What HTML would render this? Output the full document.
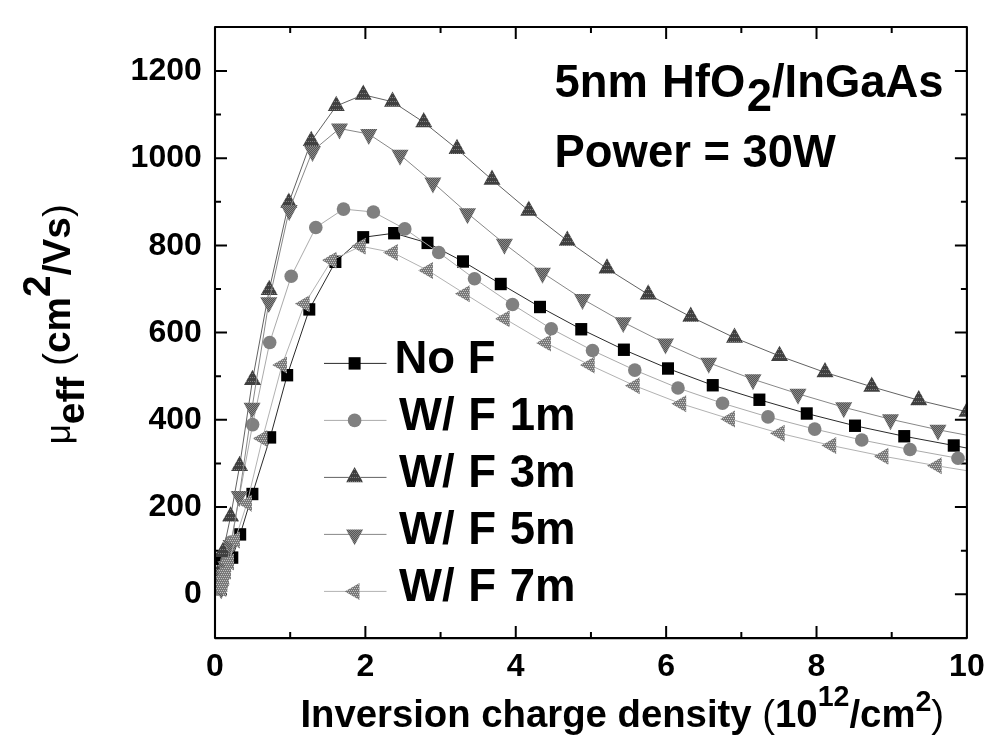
<!DOCTYPE html>
<html lang="en"><head><meta charset="utf-8"><title>Effective mobility vs inversion charge density</title>
<style>html,body{margin:0;padding:0;background:#fff}svg{display:block}text{font-family:"Liberation Sans",Arial,Helvetica,sans-serif;font-weight:bold;fill:#000}.r{font-weight:normal}</style></head><body>
<svg width="1000" height="748" viewBox="0 0 1000 748">
<rect width="1000" height="748" fill="#fff"/>
<defs><clipPath id="cp"><rect x="215.0" y="27.0" width="752.9" height="611.1"/></clipPath><pattern id="pu" width="2" height="4" patternUnits="userSpaceOnUse"><rect width="2" height="4" fill="#404040"/><rect x="0" y="1" width="1" height="1" fill="#808080"/></pattern><pattern id="pd" width="2" height="2" patternUnits="userSpaceOnUse"><rect width="2" height="2" fill="#555"/><rect width="1" height="1" fill="#888"/><rect x="1" y="1" width="1" height="1" fill="#888"/></pattern><pattern id="pl" width="2" height="4" patternUnits="userSpaceOnUse"><rect width="2" height="4" fill="#787878"/><rect width="1" height="1" fill="#c4c4c4"/><rect x="1" y="2" width="1" height="1" fill="#c4c4c4"/></pattern></defs>
<g stroke="#000" stroke-width="2" fill="none" stroke-linecap="butt">
<path d="M290.19,638.1 v-6 M290.19,27.0 v6"/>
<path d="M365.38,638.1 v-12 M365.38,27.0 v12"/>
<path d="M440.57,638.1 v-6 M440.57,27.0 v6"/>
<path d="M515.76,638.1 v-12 M515.76,27.0 v12"/>
<path d="M590.95,638.1 v-6 M590.95,27.0 v6"/>
<path d="M666.14,638.1 v-12 M666.14,27.0 v12"/>
<path d="M741.33,638.1 v-6 M741.33,27.0 v6"/>
<path d="M816.52,638.1 v-12 M816.52,27.0 v12"/>
<path d="M891.71,638.1 v-6 M891.71,27.0 v6"/>
<path d="M215.0,594.25 h12 M966.9,594.25 h-12"/>
<path d="M215.0,550.65 h6 M966.9,550.65 h-6"/>
<path d="M215.0,507.04 h12 M966.9,507.04 h-12"/>
<path d="M215.0,463.44 h6 M966.9,463.44 h-6"/>
<path d="M215.0,419.83 h12 M966.9,419.83 h-12"/>
<path d="M215.0,376.23 h6 M966.9,376.23 h-6"/>
<path d="M215.0,332.62 h12 M966.9,332.62 h-12"/>
<path d="M215.0,289.02 h6 M966.9,289.02 h-6"/>
<path d="M215.0,245.42 h12 M966.9,245.42 h-12"/>
<path d="M215.0,201.81 h6 M966.9,201.81 h-6"/>
<path d="M215.0,158.21 h12 M966.9,158.21 h-12"/>
<path d="M215.0,114.60 h6 M966.9,114.60 h-6"/>
<path d="M215.0,71.00 h12 M966.9,71.00 h-12"/>
</g>
<g clip-path="url(#cp)">
<polyline points="216.40,559.00 232.30,557.60 240.20,534.40 252.40,494.00 270.20,437.40 287.20,375.20 309.30,309.40 335.40,261.80 363.20,237.30 394.10,233.20 427.50,242.90 463.00,261.50 500.75,284.00 540.00,307.00 581.25,329.25 623.90,349.75 668.00,368.50 712.75,385.25 759.40,399.75 806.75,413.50 855.00,425.75 904.25,436.25 953.75,445.50 967.50,448.20" fill="none" stroke="#2a2a2a" stroke-width="1"/>
<rect x="210.40" y="552.80" width="12" height="12.4" fill="#000000"/>
<rect x="226.30" y="551.40" width="12" height="12.4" fill="#000000"/>
<rect x="234.20" y="528.20" width="12" height="12.4" fill="#000000"/>
<rect x="246.40" y="487.80" width="12" height="12.4" fill="#000000"/>
<rect x="264.20" y="431.20" width="12" height="12.4" fill="#000000"/>
<rect x="281.20" y="369.00" width="12" height="12.4" fill="#000000"/>
<rect x="303.30" y="303.20" width="12" height="12.4" fill="#000000"/>
<rect x="329.40" y="255.60" width="12" height="12.4" fill="#000000"/>
<rect x="357.20" y="231.10" width="12" height="12.4" fill="#000000"/>
<rect x="388.10" y="227.00" width="12" height="12.4" fill="#000000"/>
<rect x="421.50" y="236.70" width="12" height="12.4" fill="#000000"/>
<rect x="457.00" y="255.30" width="12" height="12.4" fill="#000000"/>
<rect x="494.75" y="277.80" width="12" height="12.4" fill="#000000"/>
<rect x="534.00" y="300.80" width="12" height="12.4" fill="#000000"/>
<rect x="575.25" y="323.05" width="12" height="12.4" fill="#000000"/>
<rect x="617.90" y="343.55" width="12" height="12.4" fill="#000000"/>
<rect x="662.00" y="362.30" width="12" height="12.4" fill="#000000"/>
<rect x="706.75" y="379.05" width="12" height="12.4" fill="#000000"/>
<rect x="753.40" y="393.55" width="12" height="12.4" fill="#000000"/>
<rect x="800.75" y="407.30" width="12" height="12.4" fill="#000000"/>
<rect x="849.00" y="419.55" width="12" height="12.4" fill="#000000"/>
<rect x="898.25" y="430.05" width="12" height="12.4" fill="#000000"/>
<rect x="947.75" y="439.30" width="12" height="12.4" fill="#000000"/>
<polyline points="218.00,589.00 219.50,584.00 221.50,577.00 224.00,569.00 227.00,560.00 231.00,542.00 252.60,424.60 269.70,342.50 291.20,276.30 315.80,227.50 343.50,209.10 373.40,212.00 404.80,228.90 438.75,252.50 474.50,278.75 512.50,304.50 551.25,328.75 592.50,350.50 634.80,370.10 678.00,388.00 722.50,403.25 768.00,416.90 814.70,429.10 861.75,440.00 910.00,449.50 958.00,458.25 967.50,460.20" fill="none" stroke="#aaaaaa" stroke-width="1"/>
<circle cx="218.00" cy="589.00" r="6.8" fill="#808080"/>
<circle cx="219.50" cy="584.00" r="6.8" fill="#808080"/>
<circle cx="221.50" cy="577.00" r="6.8" fill="#808080"/>
<circle cx="224.00" cy="569.00" r="6.8" fill="#808080"/>
<circle cx="227.00" cy="560.00" r="6.8" fill="#808080"/>
<circle cx="231.00" cy="542.00" r="6.8" fill="#808080"/>
<circle cx="252.60" cy="424.60" r="6.8" fill="#808080"/>
<circle cx="269.70" cy="342.50" r="6.8" fill="#808080"/>
<circle cx="291.20" cy="276.30" r="6.8" fill="#808080"/>
<circle cx="315.80" cy="227.50" r="6.8" fill="#808080"/>
<circle cx="343.50" cy="209.10" r="6.8" fill="#808080"/>
<circle cx="373.40" cy="212.00" r="6.8" fill="#808080"/>
<circle cx="404.80" cy="228.90" r="6.8" fill="#808080"/>
<circle cx="438.75" cy="252.50" r="6.8" fill="#808080"/>
<circle cx="474.50" cy="278.75" r="6.8" fill="#808080"/>
<circle cx="512.50" cy="304.50" r="6.8" fill="#808080"/>
<circle cx="551.25" cy="328.75" r="6.8" fill="#808080"/>
<circle cx="592.50" cy="350.50" r="6.8" fill="#808080"/>
<circle cx="634.80" cy="370.10" r="6.8" fill="#808080"/>
<circle cx="678.00" cy="388.00" r="6.8" fill="#808080"/>
<circle cx="722.50" cy="403.25" r="6.8" fill="#808080"/>
<circle cx="768.00" cy="416.90" r="6.8" fill="#808080"/>
<circle cx="814.70" cy="429.10" r="6.8" fill="#808080"/>
<circle cx="861.75" cy="440.00" r="6.8" fill="#808080"/>
<circle cx="910.00" cy="449.50" r="6.8" fill="#808080"/>
<circle cx="958.00" cy="458.25" r="6.8" fill="#808080"/>
<polyline points="217.50,575.00 223.00,552.00 230.60,516.60 239.60,466.00 252.50,380.00 269.20,290.00 288.80,202.80 311.25,141.00 336.25,106.00 363.25,94.75 392.50,101.75 423.75,122.25 457.00,149.00 492.00,179.75 528.75,210.75 567.30,240.75 607.00,268.60 648.25,294.50 690.75,316.75 734.50,337.75 779.50,356.00 825.00,372.40 871.75,386.75 918.75,400.25 967.00,411.80" fill="none" stroke="#626262" stroke-width="1"/>
<polygon points="217.50,564.71 209.00,579.91 226.00,579.91" fill="url(#pu)"/>
<polygon points="223.00,541.71 214.50,556.91 231.50,556.91" fill="url(#pu)"/>
<polygon points="230.60,506.31 222.10,521.51 239.10,521.51" fill="url(#pu)"/>
<polygon points="239.60,455.71 231.10,470.91 248.10,470.91" fill="url(#pu)"/>
<polygon points="252.50,369.71 244.00,384.91 261.00,384.91" fill="url(#pu)"/>
<polygon points="269.20,279.71 260.70,294.91 277.70,294.91" fill="url(#pu)"/>
<polygon points="288.80,192.51 280.30,207.71 297.30,207.71" fill="url(#pu)"/>
<polygon points="311.25,130.71 302.75,145.91 319.75,145.91" fill="url(#pu)"/>
<polygon points="336.25,95.71 327.75,110.91 344.75,110.91" fill="url(#pu)"/>
<polygon points="363.25,84.46 354.75,99.66 371.75,99.66" fill="url(#pu)"/>
<polygon points="392.50,91.46 384.00,106.66 401.00,106.66" fill="url(#pu)"/>
<polygon points="423.75,111.96 415.25,127.16 432.25,127.16" fill="url(#pu)"/>
<polygon points="457.00,138.71 448.50,153.91 465.50,153.91" fill="url(#pu)"/>
<polygon points="492.00,169.46 483.50,184.66 500.50,184.66" fill="url(#pu)"/>
<polygon points="528.75,200.46 520.25,215.66 537.25,215.66" fill="url(#pu)"/>
<polygon points="567.30,230.46 558.80,245.66 575.80,245.66" fill="url(#pu)"/>
<polygon points="607.00,258.31 598.50,273.51 615.50,273.51" fill="url(#pu)"/>
<polygon points="648.25,284.21 639.75,299.41 656.75,299.41" fill="url(#pu)"/>
<polygon points="690.75,306.46 682.25,321.66 699.25,321.66" fill="url(#pu)"/>
<polygon points="734.50,327.46 726.00,342.66 743.00,342.66" fill="url(#pu)"/>
<polygon points="779.50,345.71 771.00,360.91 788.00,360.91" fill="url(#pu)"/>
<polygon points="825.00,362.11 816.50,377.31 833.50,377.31" fill="url(#pu)"/>
<polygon points="871.75,376.46 863.25,391.66 880.25,391.66" fill="url(#pu)"/>
<polygon points="918.75,389.96 910.25,405.16 927.25,405.16" fill="url(#pu)"/>
<polygon points="967.00,401.51 958.50,416.71 975.50,416.71" fill="url(#pu)"/>
<polyline points="221.20,588.40 221.50,583.00 223.00,576.00 226.00,566.00 231.00,545.00 239.20,496.00 252.10,407.70 268.80,302.10 289.20,210.00 312.50,151.00 339.50,128.50 368.75,134.00 400.00,154.75 432.90,182.50 467.50,213.25 504.40,243.75 542.50,272.75 582.50,299.00 623.25,322.20 665.50,343.50 708.75,362.75 753.00,379.25 798.00,393.75 843.75,407.25 890.50,419.25 938.00,429.75 967.50,435.30" fill="none" stroke="#888888" stroke-width="1"/>
<polygon points="221.20,599.29 212.70,583.49 229.70,583.49" fill="url(#pd)"/>
<polygon points="221.50,593.89 213.00,578.09 230.00,578.09" fill="url(#pd)"/>
<polygon points="223.00,586.89 214.50,571.09 231.50,571.09" fill="url(#pd)"/>
<polygon points="226.00,576.89 217.50,561.09 234.50,561.09" fill="url(#pd)"/>
<polygon points="231.00,555.89 222.50,540.09 239.50,540.09" fill="url(#pd)"/>
<polygon points="239.20,506.89 230.70,491.09 247.70,491.09" fill="url(#pd)"/>
<polygon points="252.10,418.59 243.60,402.79 260.60,402.79" fill="url(#pd)"/>
<polygon points="268.80,312.99 260.30,297.19 277.30,297.19" fill="url(#pd)"/>
<polygon points="289.20,220.89 280.70,205.09 297.70,205.09" fill="url(#pd)"/>
<polygon points="312.50,161.89 304.00,146.09 321.00,146.09" fill="url(#pd)"/>
<polygon points="339.50,139.39 331.00,123.59 348.00,123.59" fill="url(#pd)"/>
<polygon points="368.75,144.89 360.25,129.09 377.25,129.09" fill="url(#pd)"/>
<polygon points="400.00,165.64 391.50,149.84 408.50,149.84" fill="url(#pd)"/>
<polygon points="432.90,193.39 424.40,177.59 441.40,177.59" fill="url(#pd)"/>
<polygon points="467.50,224.14 459.00,208.34 476.00,208.34" fill="url(#pd)"/>
<polygon points="504.40,254.64 495.90,238.84 512.90,238.84" fill="url(#pd)"/>
<polygon points="542.50,283.64 534.00,267.84 551.00,267.84" fill="url(#pd)"/>
<polygon points="582.50,309.89 574.00,294.09 591.00,294.09" fill="url(#pd)"/>
<polygon points="623.25,333.09 614.75,317.29 631.75,317.29" fill="url(#pd)"/>
<polygon points="665.50,354.39 657.00,338.59 674.00,338.59" fill="url(#pd)"/>
<polygon points="708.75,373.64 700.25,357.84 717.25,357.84" fill="url(#pd)"/>
<polygon points="753.00,390.14 744.50,374.34 761.50,374.34" fill="url(#pd)"/>
<polygon points="798.00,404.64 789.50,388.84 806.50,388.84" fill="url(#pd)"/>
<polygon points="843.75,418.14 835.25,402.34 852.25,402.34" fill="url(#pd)"/>
<polygon points="890.50,430.14 882.00,414.34 899.00,414.34" fill="url(#pd)"/>
<polygon points="938.00,440.64 929.50,424.84 946.50,424.84" fill="url(#pd)"/>
<polyline points="221.50,588.50 222.50,583.50 224.00,577.50 226.00,571.00 229.00,562.00 235.00,540.00 247.00,503.30 262.50,438.40 282.00,365.10 304.70,303.70 331.70,260.20 360.80,246.20 392.90,252.60 428.00,270.50 464.75,293.75 504.75,318.75 546.00,343.00 589.75,365.00 634.75,385.75 681.25,403.75 730.00,419.00 779.75,433.25 831.25,445.50 883.50,456.25 936.75,465.75 967.50,470.80" fill="none" stroke="#b2b2b2" stroke-width="1"/>
<polygon points="211.69,588.50 226.41,580.00 226.41,597.00" fill="url(#pl)"/>
<polygon points="212.69,583.50 227.41,575.00 227.41,592.00" fill="url(#pl)"/>
<polygon points="214.19,577.50 228.91,569.00 228.91,586.00" fill="url(#pl)"/>
<polygon points="216.19,571.00 230.91,562.50 230.91,579.50" fill="url(#pl)"/>
<polygon points="219.19,562.00 233.91,553.50 233.91,570.50" fill="url(#pl)"/>
<polygon points="225.19,540.00 239.91,531.50 239.91,548.50" fill="url(#pl)"/>
<polygon points="237.19,503.30 251.91,494.80 251.91,511.80" fill="url(#pl)"/>
<polygon points="252.69,438.40 267.41,429.90 267.41,446.90" fill="url(#pl)"/>
<polygon points="272.19,365.10 286.91,356.60 286.91,373.60" fill="url(#pl)"/>
<polygon points="294.89,303.70 309.61,295.20 309.61,312.20" fill="url(#pl)"/>
<polygon points="321.89,260.20 336.61,251.70 336.61,268.70" fill="url(#pl)"/>
<polygon points="350.99,246.20 365.71,237.70 365.71,254.70" fill="url(#pl)"/>
<polygon points="383.09,252.60 397.81,244.10 397.81,261.10" fill="url(#pl)"/>
<polygon points="418.19,270.50 432.91,262.00 432.91,279.00" fill="url(#pl)"/>
<polygon points="454.94,293.75 469.66,285.25 469.66,302.25" fill="url(#pl)"/>
<polygon points="494.94,318.75 509.66,310.25 509.66,327.25" fill="url(#pl)"/>
<polygon points="536.19,343.00 550.91,334.50 550.91,351.50" fill="url(#pl)"/>
<polygon points="579.94,365.00 594.66,356.50 594.66,373.50" fill="url(#pl)"/>
<polygon points="624.94,385.75 639.66,377.25 639.66,394.25" fill="url(#pl)"/>
<polygon points="671.44,403.75 686.16,395.25 686.16,412.25" fill="url(#pl)"/>
<polygon points="720.19,419.00 734.91,410.50 734.91,427.50" fill="url(#pl)"/>
<polygon points="769.94,433.25 784.66,424.75 784.66,441.75" fill="url(#pl)"/>
<polygon points="821.44,445.50 836.16,437.00 836.16,454.00" fill="url(#pl)"/>
<polygon points="873.69,456.25 888.41,447.75 888.41,464.75" fill="url(#pl)"/>
<polygon points="926.94,465.75 941.66,457.25 941.66,474.25" fill="url(#pl)"/>
</g>
<rect x="215.0" y="27.0" width="751.9" height="611.1" fill="none" stroke="#000" stroke-width="2.1" stroke-linejoin="round"/>
<g font-size="32">
<text x="201.8" y="603.45" text-anchor="end">0</text>
<text x="201.8" y="516.24" text-anchor="end">200</text>
<text x="201.8" y="429.03" text-anchor="end">400</text>
<text x="201.8" y="341.82" text-anchor="end">600</text>
<text x="201.8" y="254.62" text-anchor="end">800</text>
<text x="201.8" y="167.41" text-anchor="end">1000</text>
<text x="201.8" y="80.20" text-anchor="end">1200</text>
<text x="215.00" y="676" text-anchor="middle">0</text>
<text x="365.38" y="676" text-anchor="middle">2</text>
<text x="515.76" y="676" text-anchor="middle">4</text>
<text x="666.14" y="676" text-anchor="middle">6</text>
<text x="816.52" y="676" text-anchor="middle">8</text>
<text x="966.90" y="676" text-anchor="middle">10</text>
</g>
<g font-size="45.4">
<text x="554.6" y="96.8" word-spacing="1.5">5nm HfO<tspan dy="14" dx="1.5">2</tspan><tspan dy="-14">/InGaAs</tspan></text>
<text x="554.6" y="167.4">Power = 30W</text>
</g>
<g font-size="45.5">
<line x1="324" y1="363.40" x2="386.5" y2="363.40" stroke="#2a2a2a" stroke-width="1"/>
<rect x="348.60" y="357.20" width="12" height="12.4" fill="#000000"/>
<text x="394.4" y="372.70">No F</text>
<line x1="324" y1="420.40" x2="386.5" y2="420.40" stroke="#aaaaaa" stroke-width="1"/>
<circle cx="354.60" cy="420.40" r="6.8" fill="#808080"/>
<text x="399" y="429.70" word-spacing="1">W/ F 1m</text>
<line x1="324" y1="477.40" x2="386.5" y2="477.40" stroke="#626262" stroke-width="1"/>
<polygon points="354.60,467.11 346.10,482.31 363.10,482.31" fill="url(#pu)"/>
<text x="399" y="486.70" word-spacing="1">W/ F 3m</text>
<line x1="324" y1="534.40" x2="386.5" y2="534.40" stroke="#888888" stroke-width="1"/>
<polygon points="354.60,545.29 346.10,529.49 363.10,529.49" fill="url(#pd)"/>
<text x="399" y="543.70" word-spacing="1">W/ F 5m</text>
<line x1="324" y1="591.40" x2="386.5" y2="591.40" stroke="#b2b2b2" stroke-width="1"/>
<polygon points="344.79,591.40 359.51,582.90 359.51,599.90" fill="url(#pl)"/>
<text x="399" y="600.70" word-spacing="1">W/ F 7m</text>
</g>
<text x="300.4" y="726.8" font-size="38.3">Inversion charge density <tspan class="r">(</tspan>10<tspan dy="-20.5" font-size="28.6">12</tspan><tspan dy="20.5">/cm</tspan><tspan dy="-16.2" font-size="28.6">2</tspan><tspan dy="16.2" class="r">)</tspan></text>
<text transform="translate(70,444.3) rotate(-90)" font-size="38.8"><tspan class="r" font-size="35">μ</tspan><tspan dy="14">eff</tspan><tspan dy="-14"> </tspan><tspan class="r">(</tspan>cm<tspan dy="-20">2</tspan><tspan dy="20">/Vs</tspan><tspan class="r">)</tspan></text>
</svg></body></html>
